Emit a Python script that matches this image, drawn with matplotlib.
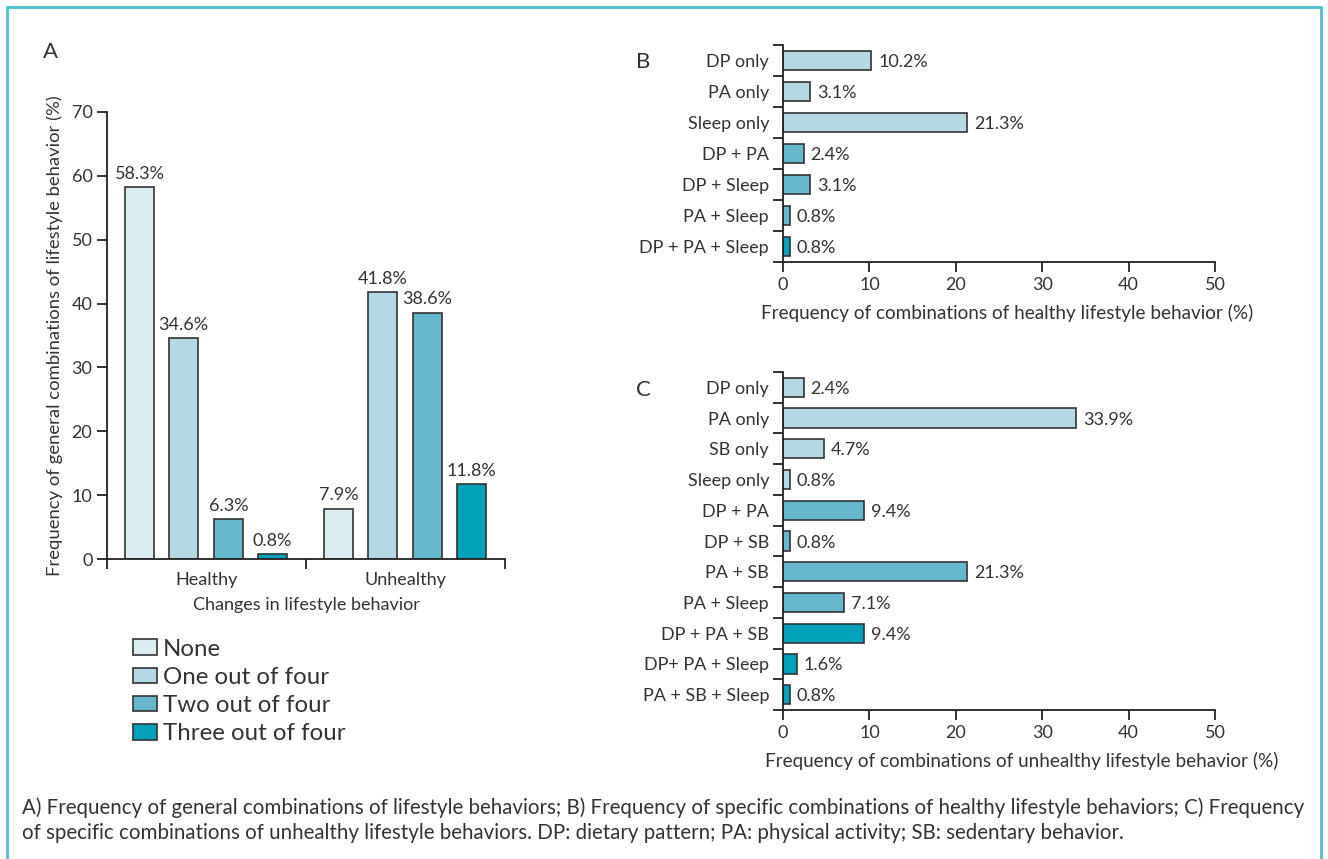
import numpy as np
import matplotlib
matplotlib.use('Agg')
import matplotlib.pyplot as plt
from matplotlib.patches import Patch, Rectangle

plt.rcParams['font.family'] = ['Lato', 'DejaVu Sans']
plt.rcParams['text.color'] = '#333333'
plt.rcParams['axes.labelcolor'] = '#333333'
plt.rcParams['xtick.color'] = '#333333'
plt.rcParams['ytick.color'] = '#333333'

# panel A data
groups = ['Healthy', 'Unhealthy']
levels = ['None', 'One out of four', 'Two out of four', 'Three out of four']
healthy_vals = [58.3, 34.6, 6.3, 0.8]
unhealthy_vals = [7.9, 41.8, 38.6, 11.8]

# panel B data
b_cats = ['DP only', 'PA only', 'Sleep only', 'DP + PA', 'DP + Sleep', 'PA + Sleep', 'DP + PA + Sleep']
b_vals = [10.2, 3.1, 21.3, 2.4, 3.1, 0.8, 0.8]
b_level = [1, 1, 1, 2, 2, 2, 3]

# panel C data
c_cats = ['DP only', 'PA only', 'SB only', 'Sleep only', 'DP + PA', 'DP + SB', 'PA + SB',
          'PA + Sleep', 'DP + PA + SB', 'DP+ PA + Sleep', 'PA + SB + Sleep']
c_vals = [2.4, 33.9, 4.7, 0.8, 9.4, 0.8, 21.3, 7.1, 9.4, 1.6, 0.8]
c_level = [1, 1, 1, 1, 2, 2, 2, 2, 3, 3, 3]

colors = ['#dcedf2', '#b5d9e4', '#66b7cc', '#00a1b9']
edge = '#333333'

W, H = 1328, 859
fig = plt.figure(figsize=(W / 100, H / 100), dpi=100)


def rect(l, t, r, b):
    return [l / W, 1 - b / H, (r - l) / W, (b - t) / H]


def style(ax):
    for s in ['top', 'right']:
        ax.spines[s].set_visible(False)
    for s in ['left', 'bottom']:
        ax.spines[s].set_linewidth(1.3)
        ax.spines[s].set_color('#222222')
    ax.tick_params(width=1.3, length=7, labelsize=13, color='#222222')


# ---- A ----
axA = fig.add_axes(rect(107, 112, 505, 559))
offsets = [-0.335, -0.115, 0.11, 0.33]
xg = np.arange(len(groups))
for i in range(4):
    vals = [healthy_vals[i], unhealthy_vals[i]]
    bars = axA.bar(xg + offsets[i], vals, width=0.145, color=colors[i],
                   edgecolor=edge, linewidth=1.2, label=levels[i])
    for bar, v in zip(bars, vals):
        axA.text(bar.get_x() + bar.get_width() / 2, v + 0.8, f'{v}%',
                 ha='center', va='bottom', fontsize=13)
axA.set_xlim(-0.5, 1.5)
axA.set_ylim(0, 70)
axA.set_yticks(range(0, 71, 10))
axA.set_xticks([-0.5, 0.5, 1.5])
axA.set_xticklabels([])
axA.set_xticks(xg, minor=True)
axA.set_xticklabels(groups, minor=True)
style(axA)
axA.tick_params(axis='x', which='minor', length=0, pad=9, labelsize=13)
axA.set_xlabel('Changes in lifestyle behavior', fontsize=13, labelpad=7)
axA.set_ylabel('Frequency of general combinations of lifestyle behavior (%)', fontsize=13.3, labelpad=6)
fig.text(43 / W, 1 - 52 / H, 'A', fontsize=16, va='center')

handles = [Patch(facecolor=colors[i], edgecolor=edge, linewidth=1.2) for i in range(4)]
fig.legend(handles, levels, loc='upper left', bbox_to_anchor=(123 / W, 1 - 629 / H),
           frameon=False, fontsize=17.3, handlelength=1.0, handleheight=0.62,
           handletextpad=0.25, labelspacing=0.3, borderaxespad=0)


def hbar(ax, cats, vals, lev):
    y = np.arange(len(cats))
    ax.barh(y, vals, height=0.63, color=[colors[k] for k in lev],
            edgecolor=edge, linewidth=1.2)
    for yi, v in zip(y, vals):
        ax.text(v + 0.8, yi + 0.05, f'{v}%', va='center', ha='left', fontsize=13)
    ax.set_ylim(len(cats) - 0.5, -0.5)
    ax.set_xlim(0, 50)
    ax.set_xticks(range(0, 51, 10))
    ax.set_yticks(np.arange(-0.5, len(cats), 1))
    ax.set_yticklabels([])
    ax.set_yticks(y, minor=True)
    ax.set_yticklabels(cats, minor=True)
    style(ax)
    ax.tick_params(axis='y', which='minor', length=0, pad=10, labelsize=13)


# ---- B ----
axB = fig.add_axes(rect(783, 45, 1215, 262))
hbar(axB, b_cats, b_vals, b_level)
axB.set_xlabel('Frequency of combinations of healthy lifestyle behavior (%)', fontsize=13.6,
               labelpad=8, x=0.519)
fig.text(636 / W, 1 - 62 / H, 'B', fontsize=16, va='center')

# ---- C ----
axC = fig.add_axes(rect(783, 372, 1215, 710))
hbar(axC, c_cats, c_vals, c_level)
axC.set_xlabel('Frequency of combinations of unhealthy lifestyle behavior (%)', fontsize=13.6,
               labelpad=8, x=0.553)
fig.text(636 / W, 1 - 390 / H, 'C', fontsize=16, va='center')

# caption
fig.text(22 / W, 1 - 808 / H,
         'A) Frequency of general combinations of lifestyle behaviors; B) Frequency of specific combinations '
         'of healthy lifestyle behaviors; C) Frequency',
         fontsize=14.8, va='center', ha='left')
fig.text(22 / W, 1 - 833 / H,
         'of specific combinations of unhealthy lifestyle behaviors. DP: dietary pattern; '
         'PA: physical activity; SB: sedentary behavior.',
         fontsize=14.8, va='center', ha='left')

# frame
fig.patches.append(Rectangle((7 / W, -0.05), (1321 - 7) / W, 1.05 - 7 / H,
                             transform=fig.transFigure, fill=False,
                             edgecolor='#4dbfd0', linewidth=2))

fig.savefig('out.png', dpi=100)
